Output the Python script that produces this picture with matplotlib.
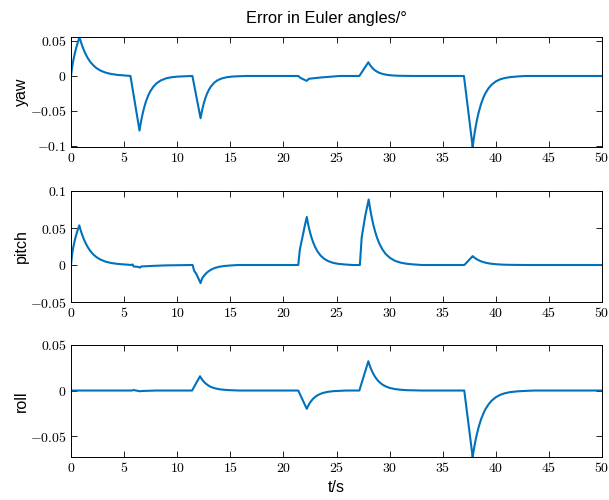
import matplotlib
matplotlib.use("Agg")
import matplotlib.pyplot as plt
from matplotlib.ticker import FuncFormatter

plt.rcParams['mathtext.fontset'] = 'cm'
plt.rcParams['font.family'] = ['Liberation Sans', 'DejaVu Sans']

# ---- data ----
yaw_t = [0, 0.1, 0.2, 0.4, 0.6, 0.8,
         0.9, 1.0, 1.1, 1.25, 1.4, 1.6, 1.8, 2.1, 2.4, 2.8, 3.3, 3.8, 4.4, 5.0, 5.6,
         6.45, 6.55, 6.65, 6.75, 6.9, 7.05, 7.25, 7.45, 7.75, 8.05, 8.45, 8.95, 9.45, 10.05, 10.75,
         11.43, 12.2, 12.3, 12.4, 12.5, 12.65, 12.8, 13.0, 13.2, 13.5, 13.8, 14.2, 14.7, 15.2, 15.8, 16.5,
         21.4, 21.55, 21.7, 22.2, 22.4, 23.5, 25.3,
         27.15, 28.0, 28.1, 28.2, 28.3, 28.45, 28.6, 28.8, 29.0, 29.3, 29.6, 30.0, 30.5, 31.0, 31.6, 32.3,
         37.0, 37.82, 37.92, 38.02, 38.12, 38.22, 38.32, 38.42, 38.62, 38.82, 39.02, 39.32, 39.62,
         40.02, 40.42, 40.82, 41.32, 42.02, 42.8, 50]
yaw_v = [0, 0.012, 0.021, 0.035, 0.046, 0.0557,
         0.0504, 0.0456, 0.0413, 0.0355, 0.0306, 0.025, 0.0205, 0.0152, 0.0112, 0.0075, 0.0046, 0.0028, 0.0015, 0.0008, 0,
         -0.078, -0.0688, -0.0607, -0.0536, -0.0444, -0.0368, -0.0287, -0.0223, -0.0154, -0.0106, -0.0064, -0.0034, -0.0018, -0.0009, -0.0004,
         0, -0.0604, -0.0524, -0.0454, -0.0393, -0.0318, -0.0256, -0.0193, -0.0145, -0.0094, -0.0061, -0.0035, -0.0017, -0.0008, -0.00035, 0,
         0, -0.002, -0.0035, -0.007, -0.004, -0.0022, 0,
         0, 0.0196, 0.017, 0.0147, 0.0128, 0.0103, 0.0083, 0.0063, 0.0047, 0.0031, 0.002, 0.0011, 0.00055, 0.00027, 0.0001, 0,
         0, -0.1014, -0.0901, -0.0801, -0.0712, -0.0633, -0.0563, -0.0501, -0.0396, -0.0313, -0.0247, -0.0174, -0.0122,
         -0.0076, -0.0047, -0.003, -0.0017, -0.0007, 0, 0]

pitch_t = [0, 0.1, 0.2, 0.4, 0.6, 0.78,
           0.88, 0.98, 1.08, 1.23, 1.38, 1.58, 1.78, 2.08, 2.38, 2.78, 3.28, 3.78, 4.38, 4.98, 5.7,
           5.8, 5.9, 6.3, 6.5, 6.6, 8.0, 9.0,
           11.45, 11.6, 11.8, 12.2, 12.35, 12.55, 12.75, 12.95, 13.25, 13.55, 13.95, 14.45, 15.05, 15.75,
           21.4, 21.55, 21.8, 22.0, 22.2, 22.3, 22.4, 22.5, 22.65, 22.8, 23.0, 23.2, 23.5, 23.8, 24.2, 24.7, 25.2, 25.8, 26.5,
           27.2, 27.37, 27.7, 28.03, 28.13, 28.23, 28.33, 28.48, 28.63, 28.83, 29.03, 29.33, 29.63, 30.03, 30.53, 31.03, 31.63, 32.33, 33.03,
           37.04, 37.82, 37.92, 38.02, 38.12, 38.27, 38.42, 38.62, 38.82, 39.12, 39.42, 39.82, 40.32, 40.82, 41.42, 42.12, 42.82, 50]
pitch_v = [0, 0.014, 0.023, 0.036, 0.046, 0.0536,
           0.0485, 0.0439, 0.0397, 0.0342, 0.0294, 0.0241, 0.0197, 0.0146, 0.0108, 0.0073, 0.0044, 0.0027, 0.0015, 0.0008, 0,
           0.0008, -0.002, -0.0025, -0.0035, -0.002, -0.001, -0.0005,
           0, -0.008, -0.012, -0.0245, -0.018, -0.014, -0.0109, -0.0085, -0.0058, -0.004, -0.0024, -0.0013, -0.0006, 0,
           0, 0.021, 0.038, 0.052, 0.0649, 0.0573, 0.0505, 0.0446, 0.037, 0.0307, 0.0239, 0.0186, 0.0128, 0.0088, 0.0053, 0.0028, 0.0015, 0.0007, 0,
           0, 0.037, 0.066, 0.0885, 0.0792, 0.0709, 0.0634, 0.0537, 0.0454, 0.0364, 0.0291, 0.0209, 0.015, 0.0096, 0.0055, 0.0032, 0.0016, 0.0007, 0,
           0, 0.012, 0.0107, 0.0096, 0.0086, 0.0073, 0.0062, 0.0049, 0.004, 0.0028, 0.002, 0.0013, 0.00075, 0.0004, 0.0002, 0.0001, 0, 0]

roll_t = [0, 5.7, 5.9, 6.5, 6.7, 8.0,
          11.4, 12.15, 12.25, 12.35, 12.45, 12.6, 12.75, 12.95, 13.15, 13.45, 13.75, 14.15, 14.65, 15.15, 15.85,
          21.4, 22.2, 22.3, 22.4, 22.5, 22.65, 22.8, 23.0, 23.2, 23.5, 23.8, 24.2, 24.7, 25.2, 25.9,
          27.15, 28.0, 28.1, 28.2, 28.3, 28.45, 28.6, 28.8, 29.0, 29.3, 29.6, 30.0, 30.5, 31.0, 31.6, 32.3, 33.0,
          37.03, 37.82, 37.92, 38.02, 38.12, 38.22, 38.32, 38.42, 38.62, 38.82, 39.02, 39.32, 39.62,
          40.02, 40.42, 40.82, 41.32, 42.02, 42.82, 43.6, 50]
roll_v = [0, 0, 0.0005, -0.0008, -0.0005, 0,
          0, 0.0157, 0.0137, 0.012, 0.0105, 0.0086, 0.0071, 0.0054, 0.0041, 0.0028, 0.0019, 0.0011, 0.0006, 0.0003, 0,
          0, -0.0201, -0.0176, -0.0154, -0.0135, -0.011, -0.009, -0.0069, -0.0053, -0.0036, -0.0024, -0.0014, -0.0007, -0.0004, 0,
          0, 0.0322, 0.0285, 0.0253, 0.0224, 0.0187, 0.0156, 0.0123, 0.0097, 0.0067, 0.0047, 0.0029, 0.0016, 0.0009, 0.0004, 0.0002, 0,
          0, -0.073, -0.0657, -0.0591, -0.0532, -0.0479, -0.0431, -0.0388, -0.0314, -0.0255, -0.0206, -0.0151, -0.011,
          -0.0072, -0.0047, -0.0031, -0.0018, -0.0009, -0.0004, 0, 0]

panel_labels = ['yaw', 'pitch', 'roll']
ylims = [(-0.1015, 0.0557), (-0.05, 0.1), (-0.073, 0.05)]
yticks = [[-0.1, -0.05, 0, 0.05], [-0.05, 0, 0.05, 0.1], [-0.05, 0, 0.05]]
xticks = list(range(0, 51, 5))
title = 'Error in Euler angles/°'
xlabel = 't/s'

color = '#0072BD'
W, H = 609, 500
fig = plt.figure(figsize=(W / 100, H / 100), dpi=100)

# axes pixel boxes (left, top, right, bottom)
boxes = [(71, 37, 602, 147), (71, 191, 602, 302), (71, 345, 602, 457)]


def fmt(v, pos):
    if abs(v) < 1e-12:
        return r'$0$'
    return '$' + ('%g' % v) + '$'


data = [(yaw_t, yaw_v), (pitch_t, pitch_v), (roll_t, roll_v)]
for i, (box, (t, v)) in enumerate(zip(boxes, data)):
    l, tp, r, b = box
    ax = fig.add_axes([l / W, 1 - b / H, (r - l) / W, (b - tp) / H])
    ax.plot(t, v, color=color, lw=1.5)
    ax.set_xlim(0, 50)
    ax.set_ylim(*ylims[i])
    ax.set_xticks(xticks)
    ax.set_yticks(yticks[i])
    ax.xaxis.set_major_formatter(FuncFormatter(fmt))
    ax.yaxis.set_major_formatter(FuncFormatter(fmt))
    ax.tick_params(direction='in', top=True, right=True, length=4, width=0.6,
                   labelsize=10, pad=3)
    for sp in ax.spines.values():
        sp.set_linewidth(0.7)
    ax.set_ylabel(panel_labels[i], fontsize=11.5, va='center')
    ax.yaxis.set_label_coords((21.5 - l) / (r - l), 0.5)

fig.text(326 / W, 1 - 18 / H, title, ha='center', va='center', fontsize=11.8)
fig.text(336 / W, 1 - 487 / H, xlabel, ha='center', va='center', fontsize=11.5)

fig.savefig('out.png', dpi=100)
